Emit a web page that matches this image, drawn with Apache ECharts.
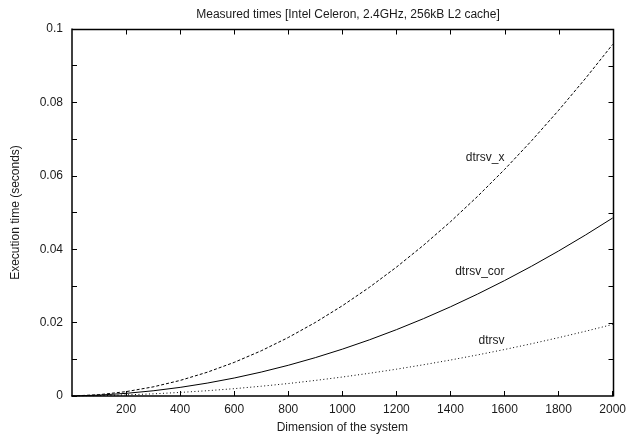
<!DOCTYPE html>
<html>
<head>
<meta charset="utf-8">
<script src="https://cdn.jsdelivr.net/npm/echarts@6/dist/echarts.min.js"></script>
<style>html,body{margin:0;padding:0;background:#fff}#c{width:629px;height:439px}</style>
</head>
<body>
<div id="c"></div>
<script>
var titleText = 'Measured times [Intel Celeron, 2.4GHz, 256kB L2 cache]';
var xName = 'Dimension of the system';
var yName = 'Execution time (seconds)';
var sizes = [0,100,200,300,400,500,600,700,800,900,1000,1100,1200,1300,1400,1500,1600,1700,1800,1900,2000];
var dtrsvX = [0,0.00036,0.00119,0.00248,0.00424,0.00647,0.00916,0.01232,0.01594,0.02003,0.02459,0.02961,0.03510,0.04106,0.04748,0.05437,0.06172,0.06954,0.07783,0.08658,0.0958];
var dtrsvCor = [0,0.00024,0.00072,0.00142,0.00235,0.00351,0.00490,0.00652,0.00837,0.01045,0.01276,0.01530,0.01807,0.02107,0.02430,0.02776,0.03145,0.03536,0.03951,0.04389,0.0485];
var dtrsv = [0,0.00010,0.00030,0.00059,0.00097,0.00144,0.00200,0.00266,0.00340,0.00424,0.00517,0.00619,0.00730,0.00851,0.00980,0.01119,0.01267,0.01424,0.01590,0.01765,0.0195];
var curveLabels = ['dtrsv_x','dtrsv_cor','dtrsv'];
var labelAt = [[1600,0.065],[1600,0.034],[1600,0.015]];
var xTicks = [200,400,600,800,1000,1200,1400,1600,1800];
var yTicks = [0.01,0.02,0.03,0.04,0.05,0.06,0.07,0.08,0.09];
var xMin = 0, xMax = 2000, yMin = 0, yMax = 0.1;

function pairs(ys){return sizes.map(function(x,i){return [x,ys[i]];});}
var txt = '#1a1a1a';
var font = 'Liberation Sans, Arial, Helvetica, sans-serif';
var fs = 12;
function mk(name, ys, type, idx){
  return {
    name:name, type:'line', data:pairs(ys), showSymbol:false, symbol:'none', smooth:false,
    animation:false,
    lineStyle:{color:'#000', width:1, type:type},
    markPoint:{symbol:'circle', symbolSize:0, animation:false,
      data:[{coord:labelAt[idx], value:name}],
      label:{show:true, position:'left', distance:0, formatter:name, color:txt, fontSize:fs, fontFamily:font}}
  };
}
// mirror frame (top, right) and mirrored ticks, positioned through the axes' scales
var frameData = xTicks.map(function(v){return [0, v];})
  .concat(yTicks.map(function(v){return [1, v];}))
  .concat([[2, 0]]);
function crisp(p){return [Math.round(p[0]) + 0.5, Math.round(p[1]) + 0.5];}
function renderFrame(params, api){
  var kind = api.value(0), v = api.value(1);
  var st = {stroke:'#000', lineWidth:1, fill:null};
  if (kind === 2) {
    var p1 = crisp(api.coord([xMin, yMax])), p2 = crisp(api.coord([xMax, yMax])), p3 = crisp(api.coord([xMax, yMin]));
    return {type:'polyline', shape:{points:[p1, p2, p3]}, style:{stroke:'#000', lineWidth:1.5, fill:null}, silent:true, z2:100};
  }
  var a, b;
  if (kind === 0) { a = crisp(api.coord([v, yMax])); b = [a[0], a[1] + 5]; }
  else { a = crisp(api.coord([xMax, v])); b = [a[0] - 5, a[1]]; }
  return {type:'line', shape:{x1:a[0], y1:a[1], x2:b[0], y2:b[1]}, style:st, silent:true, z2:100};
}
var chart = echarts.init(document.getElementById('c'), null, {renderer:'canvas'});
var axLine = {show:true, onZero:false, lineStyle:{color:'#000', width:1.5}};
var tick = {show:true, inside:true, length:5, lineStyle:{color:'#000', width:1}};
chart.setOption({
  animation:false,
  backgroundColor:'#fff',
  title:{text:titleText, left:343, textAlign:'center', top:4, textStyle:{fontSize:fs, fontWeight:'normal', color:txt, fontFamily:font}},
  grid:{left:72, right:15, top:29, bottom:41},
  xAxis:{type:'value', min:xMin, max:xMax, interval:200, position:'bottom',
    name:xName, nameLocation:'middle', nameGap:26, nameTextStyle:{fontSize:fs, color:txt, fontFamily:font},
    axisLine:axLine, axisTick:tick,
    axisLabel:{show:true, showMinLabel:false, margin:8, fontSize:fs, color:txt, fontFamily:font,
      formatter:function(v){return String(v);}},
    splitLine:{show:false}},
  yAxis:{type:'value', min:yMin, max:yMax, interval:0.01, position:'left',
    name:yName, nameLocation:'middle', nameGap:50, nameTextStyle:{fontSize:fs, color:txt, fontFamily:font},
    axisLine:axLine, axisTick:tick,
    axisLabel:{show:true, margin:9, fontSize:fs, color:txt, fontFamily:font,
      formatter:function(v){var k=Math.round(v*100); if(k%2!==0) return ''; return k===0?'0':String(+(k/100).toFixed(2));}},
    splitLine:{show:false}},
  series:[
    mk(curveLabels[0], dtrsvX, [3,2], 0),
    mk(curveLabels[1], dtrsvCor, 'solid', 1),
    mk(curveLabels[2], dtrsv, [1,2.5], 2),
    {type:'custom', data:frameData, renderItem:renderFrame, clip:false, silent:true, animation:false,
     encode:{x:-1, y:-1}, z:10}
  ]
});
</script>
</body>
</html>
